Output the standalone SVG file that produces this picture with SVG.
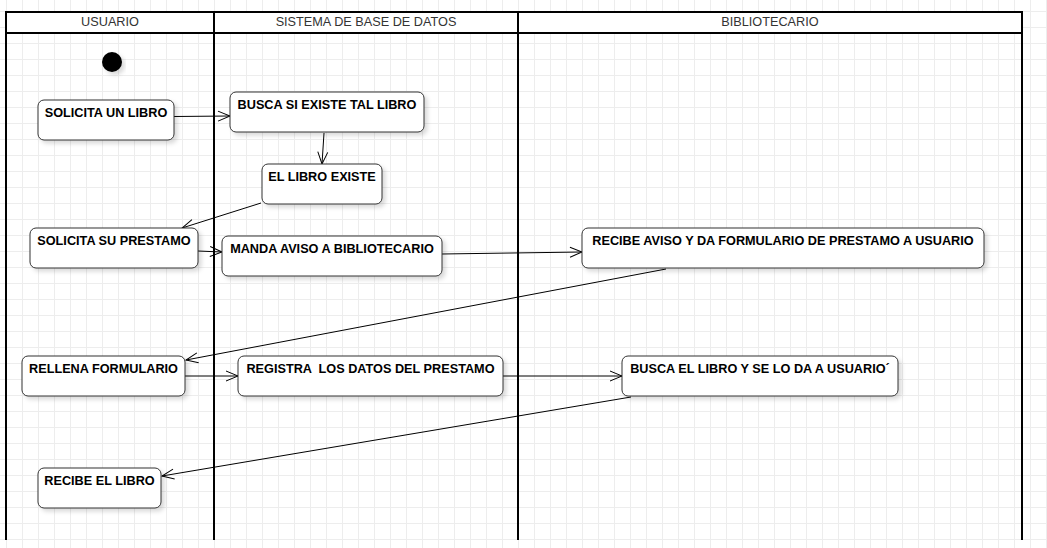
<svg xmlns="http://www.w3.org/2000/svg" width="1047" height="548" viewBox="0 0 1047 548">
<style>
.lane{fill:none;stroke:#000;stroke-width:2}
.hdr{fill:#fff;stroke:#000;stroke-width:2}
.ht{font-family:"Liberation Sans",Arial,sans-serif;font-size:12.7px;fill:#333;text-anchor:middle}
.box{fill:#fff;stroke:#333;stroke-width:1;filter:url(#sh)}
.nt{font-family:"Liberation Sans",Arial,sans-serif;font-size:12.7px;font-weight:bold;fill:#000;text-anchor:middle}
.edge{fill:none;stroke:#000;stroke-width:1;marker-end:url(#arr)}
</style>
<defs>
<pattern id="grid" x="6" y="11" width="16" height="16" patternUnits="userSpaceOnUse">
<rect x="0" y="0" width="1" height="16" fill="#ededed"/>
<rect x="0" y="0" width="16" height="1" fill="#ededed"/>
</pattern>
<filter id="sh" x="-10%" y="-20%" width="130%" height="160%">
<feDropShadow dx="3" dy="3" stdDeviation="2" flood-color="#000" flood-opacity="0.15"/>
</filter>
<marker id="arr" markerUnits="userSpaceOnUse" markerWidth="16" markerHeight="12" refX="13" refY="6" orient="auto" viewBox="0 0 16 12">
<path d="M1,1 L13,6 L1,11" fill="none" stroke="#000" stroke-width="1"/>
</marker>
</defs>
<rect width="1047" height="548" fill="#fff"/>
<rect width="1047" height="548" fill="url(#grid)"/>

<g id="lanes">
<g id="lane-usuario">
<rect class="hdr" x="6" y="12" width="208" height="21"/>
<line class="lane" x1="6" y1="12" x2="6" y2="540"/>
<text class="ht" x="110" y="26">USUARIO</text>
</g>
<g id="lane-sistema">
<rect class="hdr" x="214" y="12" width="304" height="21"/>
<line class="lane" x1="214" y1="12" x2="214" y2="540"/>
<text class="ht" x="366" y="26">SISTEMA DE BASE DE DATOS</text>
</g>
<g id="lane-bibliotecario">
<rect class="hdr" x="518" y="12" width="504" height="21"/>
<line class="lane" x1="518" y1="12" x2="518" y2="540"/>
<line class="lane" x1="1022" y1="12" x2="1022" y2="540"/>
<text class="ht" x="770" y="26">BIBLIOTECARIO</text>
</g>
</g>

<g id="connectors">
<path class="edge" d="M174,116.5 L230,116"/>
<path class="edge" d="M324,133 L322,164"/>
<path class="edge" d="M261,203 L182,228"/>
<path class="edge" d="M198,251 L222,252"/>
<path class="edge" d="M442,254 L582,252"/>
<path class="edge" d="M666,269 L186,360"/>
<path class="edge" d="M185,376 L238,376"/>
<path class="edge" d="M503,376 L622,376"/>
<path class="edge" d="M631,397 L162,476"/>
</g>

<g id="start">
<circle cx="112" cy="62" r="10" fill="#000" filter="url(#sh)"/>
</g>
<g id="n1">
<rect class="box" x="38" y="100" width="136" height="40" rx="6"/>
<text class="nt" x="106" y="117">SOLICITA UN LIBRO</text>
</g>
<g id="n2">
<rect class="box" x="230" y="92" width="194" height="40" rx="6"/>
<text class="nt" x="327" y="109">BUSCA SI EXISTE TAL LIBRO</text>
</g>
<g id="n3">
<rect class="box" x="262" y="164" width="120" height="40" rx="6"/>
<text class="nt" x="322" y="181">EL LIBRO EXISTE</text>
</g>
<g id="n4">
<rect class="box" x="30" y="228" width="168" height="40" rx="6"/>
<text class="nt" x="114" y="245">SOLICITA SU PRESTAMO</text>
</g>
<g id="n5">
<rect class="box" x="222" y="236" width="220" height="40" rx="6"/>
<text class="nt" x="332" y="253">MANDA AVISO A BIBLIOTECARIO</text>
</g>
<g id="n6">
<rect class="box" x="582" y="228" width="402" height="40" rx="6"/>
<text class="nt" x="783" y="245">RECIBE AVISO Y DA FORMULARIO DE PRESTAMO A USUARIO</text>
</g>
<g id="n7">
<rect class="box" x="22" y="356" width="163" height="40" rx="6"/>
<text class="nt" x="103.5" y="373">RELLENA FORMULARIO</text>
</g>
<g id="n8">
<rect class="box" x="238" y="356" width="265" height="40" rx="6"/>
<text class="nt" x="370.5" y="373" xml:space="preserve">REGISTRA  LOS DATOS DEL PRESTAMO</text>
</g>
<g id="n9">
<rect class="box" x="622" y="356" width="276" height="40" rx="6"/>
<text class="nt" x="760" y="373">BUSCA EL LIBRO Y SE LO DA A USUARIO´</text>
</g>
<g id="n10">
<rect class="box" x="38" y="468" width="123" height="40" rx="6"/>
<text class="nt" x="99.5" y="485">RECIBE EL LIBRO</text>
</g>
</svg>
